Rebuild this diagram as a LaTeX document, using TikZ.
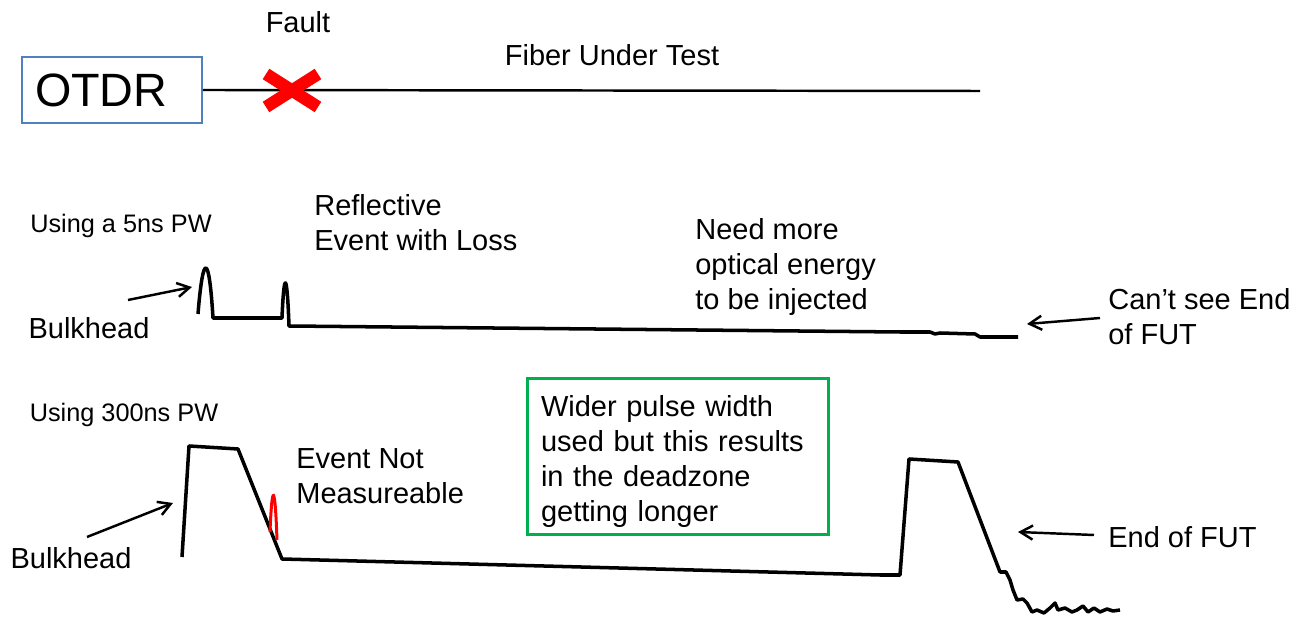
\documentclass[tikz,border=0pt]{standalone}
\usepackage{fontspec}
\setmainfont{Liberation Sans}
\usetikzlibrary{arrows.meta}
\definecolor{boxblue}{RGB}{79,129,189}
\definecolor{notegreen}{RGB}{0,176,80}
\begin{document}
\begin{tikzpicture}[x=0.02cm, y=-0.02cm, >={Straight Barb[length=7pt,width=8pt]},
    lbl/.style={font=\fontsize{16.5}{19.8}\selectfont, inner sep=0pt, align=left},
    small/.style={font=\fontsize{14.4}{17}\selectfont, inner sep=0pt},
    trace/.style={line width=2pt, line join=round},
    pointer/.style={->, line width=1.4pt}]
  \useasboundingbox (0,0) rectangle (1296,617);

  \node[draw=boxblue, line width=1.1pt, font=\fontsize{26.6}{30}\selectfont,
    inner xsep=0.26cm, inner ysep=0pt, text width=3.08cm, align=left,
    minimum height=1.32cm] (otdr) at (112,90) {OTDR};
  \coordinate (fibreend) at (980,91);
  \draw[line width=1.4pt] (otdr.east) -- (fibreend);
  \draw[red, line width=7pt] (266,74) -- (318,107) (266,107) -- (318,74);
  \node[lbl] (fault) at (298,22) {Fault};
  \node[lbl] (fut) at (612,55) {Fiber Under Test};

  \node[small] (pwA) at (121,226) {Using a 5ns PW};
  \node[lbl] (bulkA) at (89,328) {Bulkhead};
  \node[lbl, anchor=west] (refl) at (314,223) {Reflective\\Event with Loss};
  \node[lbl, anchor=west] (energy) at (695,267) {Need more\\optical energy\\to be injected};
  \node[lbl, anchor=west] (noend) at (1108,317) {Can’t see End\\of FUT};
  \draw[trace] (198,314) .. controls (203,252) and (209,252) .. (213,318) -- (282,318)
    .. controls (284,270) and (287,270) .. (289,326) -- (900,332) -- (930,332)
    -- (935,334) -- (940,333) -- (975,334) -- (980,337) -- (1018,337);
  \coordinate (bulkAtail) at (128,300);
  \coordinate (bulkAtip) at (192,287);
  \coordinate (noendtail) at (1100,318);
  \coordinate (noendtip) at (1027,324);
  \draw[pointer] (bulkAtail) -- (bulkAtip);
  \draw[pointer] (noendtail) -- (noendtip);

  \node[small] (pwB) at (124,415) {Using 300ns PW};
  \node[lbl] (bulkB) at (71,558) {Bulkhead};
  \node[lbl, anchor=west] (unmeas) at (296,476) {Event Not\\Measureable};
  \node[lbl, draw=notegreen, line width=1.7pt, inner xsep=0.28cm, text width=5.48cm,
    minimum height=3.14cm] (note) at (678,456.5)
    {\rule{0pt}{17.6pt}Wider pulse width\\used but this results\\in the deadzone\\getting longer};
  \node[lbl, anchor=west] (endfut) at (1108,537) {End of FUT};
  \draw[trace] (182,557) -- (189,446) -- (238,449) -- (282,559) -- (880,575) -- (900,575)
    -- (909,459) -- (958,462) -- (1000,572) -- (1006,572) -- (1010,580) -- (1013,590)
    -- (1017,600) -- (1023,599) -- (1027,603) -- (1032,612) -- (1037,610) -- (1044,613)
    -- (1050,608) -- (1055,603) -- (1058,610) -- (1065,608) -- (1072,612) -- (1077,610)
    -- (1083,606) -- (1088,612) -- (1094,608) -- (1100,612) -- (1107,609) -- (1113,611)
    -- (1120,610);
  \draw[red, line width=1.7pt] (270,532) .. controls (272,482) and (275,482) .. (277,540);
  \coordinate (bulkBtail) at (87,537);
  \coordinate (bulkBtip) at (173,503);
  \coordinate (endfuttail) at (1094,535);
  \coordinate (endfuttip) at (1018,532);
  \draw[pointer] (bulkBtail) -- (bulkBtip);
  \draw[pointer] (endfuttail) -- (endfuttip);
\end{tikzpicture}
\end{document}
